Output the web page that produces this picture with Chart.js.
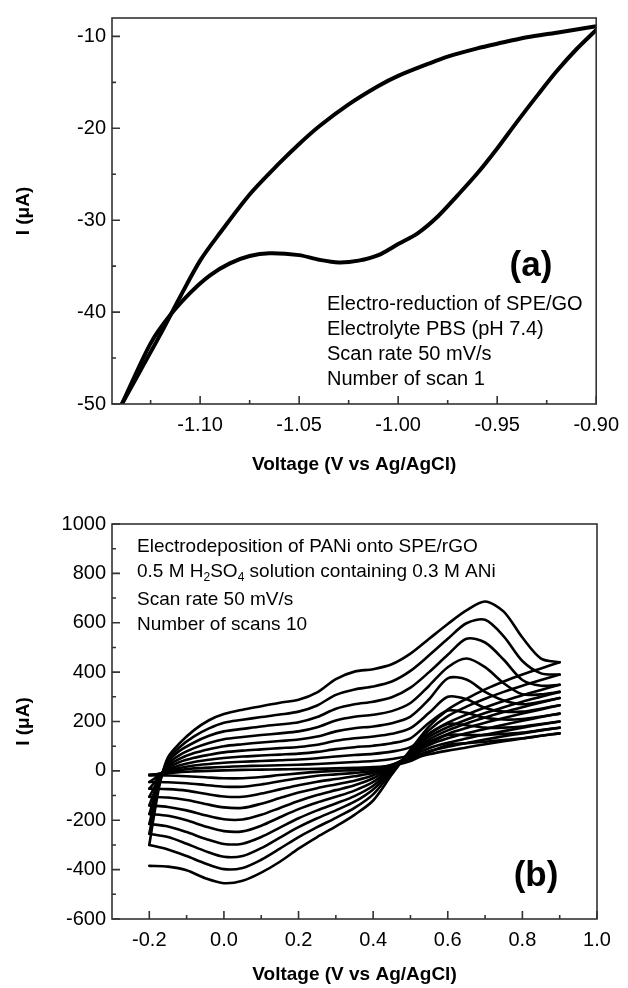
<!DOCTYPE html>
<html><head><meta charset="utf-8">
<script src="https://cdn.jsdelivr.net/npm/chart.js@4.4.1/dist/chart.umd.min.js"></script>
<style>
html,body{margin:0;padding:0;background:#fff;}
canvas{position:absolute;left:0;}
#ca{top:0;} #cb{top:492px;}
</style></head><body>
<canvas id="ca" width="628" height="492"></canvas>
<canvas id="cb" width="628" height="496"></canvas>
<script>
// ---------- Panel (a) data ----------
const A_UPPER_V = [-1.1395,-1.13,-1.12,-1.11,-1.10,-1.09,-1.075,-1.06,-1.05,-1.04,-1.025,-1.01,-1.00,-0.985,-0.975,-0.96,-0.95,-0.935,-0.92,-0.90];
const A_UPPER_I = [-50,-46.3,-42.4,-38.3,-34.4,-31.4,-27.2,-23.8,-21.7,-19.8,-17.4,-15.4,-14.3,-13.0,-12.2,-11.3,-10.8,-10.1,-9.6,-8.9];
const A_LOWER_V = [-0.90,-0.91,-0.92,-0.93,-0.94,-0.95,-0.96,-0.97,-0.98,-0.99,-1.00,-1.01,-1.02,-1.03,-1.04,-1.05,-1.065,-1.075,-1.085,-1.095,-1.105,-1.115,-1.125,-1.1395];
const A_LOWER_I = [-9.3,-11.4,-13.8,-16.5,-19.3,-22.2,-24.9,-27.3,-29.6,-31.4,-32.6,-33.8,-34.4,-34.6,-34.3,-33.8,-33.6,-33.9,-34.7,-36.0,-37.9,-40.3,-43.4,-50];
const A_X_TICKS = [-1.10,-1.05,-1.00,-0.95,-0.90];
const A_X_MINOR = [-1.125,-1.075,-1.025,-0.975,-0.925];
const A_Y_TICKS = [-50,-40,-30,-20,-10];
const A_Y_MINOR = [-45,-35,-25,-15];
const A_NOTES = ["Electro-reduction of SPE/GO","Electrolyte PBS (pH 7.4)","Scan rate 50 mV/s","Number of scan 1"];

// ---------- Panel (b) data ----------
const B_ANODIC_V = [-0.2,-0.185,-0.17,-0.15,-0.12,-0.08,-0.04,0.0,0.05,0.1,0.15,0.2,0.25,0.3,0.35,0.4,0.45,0.5,0.55,0.6,0.65,0.7,0.75,0.8,0.85,0.9];
const B_CATHODIC_V = [0.9,0.85,0.8,0.75,0.7,0.65,0.6,0.55,0.5,0.45,0.4,0.35,0.3,0.25,0.2,0.15,0.1,0.05,0.0,-0.05,-0.1,-0.15,-0.2];
const SCAN1_ANODIC  = [-15,-14,-12,-10,-5,-2,0,2,4,5,6,7,8,10,12,15,22,40,75,105,112,118,125,132,142,152];
const SCAN2_ANODIC  = [-18,-15,-10,-5,3,10,13,16,19,21,23,25,28,32,36,40,48,65,110,145,145,145,150,155,165,175];
const SCAN3_ANODIC  = [-45,-30,-12,0,12,22,28,33,37,40,43,46,51,58,64,69,78,96,150,190,185,175,175,180,190,200];
const SCAN4_ANODIC  = [-72,-45,-15,5,22,36,45,52,58,62,66,70,77,88,96,102,112,132,195,245,235,215,208,210,220,232];
const SCAN5_ANODIC  = [-105,-62,-18,12,35,53,65,75,82,87,92,97,106,122,132,139,150,173,235,300,290,255,240,240,252,266];
const SCAN6_ANODIC  = [-140,-80,-20,20,48,72,88,100,108,115,121,127,139,160,173,180,193,220,290,375,370,320,285,270,280,295];
const SCAN7_ANODIC  = [-175,-100,-25,28,63,92,113,128,137,145,152,160,177,204,219,227,242,275,345,420,455,420,355,310,310,320];
const SCAN8_ANODIC  = [-215,-120,-30,36,80,115,142,160,170,180,188,197,218,252,270,280,298,337,400,470,535,520,450,368,345,349];
const SCAN9_ANODIC  = [-255,-140,-35,44,95,140,172,195,207,218,228,240,265,308,330,342,362,405,468,535,598,612,545,445,395,390];
const SCAN10_ANODIC = [-300,-160,-40,55,110,165,205,230,248,262,276,288,318,372,402,412,432,475,535,595,650,686,645,540,455,440];
const SCAN1_CATHODIC  = [152,142,131,120,108,95,82,67,48,25,8,3,0,-4,-10,-17,-25,-30,-30,-26,-22,-19,-18];
const SCAN2_CATHODIC  = [175,164,152,140,127,113,98,80,53,24,0,-8,-14,-20,-30,-42,-55,-64,-64,-57,-50,-46,-45];
const SCAN3_CATHODIC  = [200,188,175,161,147,131,114,92,58,22,-8,-22,-33,-44,-58,-75,-92,-105,-104,-93,-80,-74,-72];
const SCAN4_CATHODIC  = [232,218,203,187,170,152,132,105,63,20,-18,-40,-55,-70,-88,-110,-133,-150,-148,-134,-118,-108,-105];
const SCAN5_CATHODIC  = [266,249,232,214,195,174,150,117,67,15,-30,-58,-78,-98,-122,-150,-178,-197,-196,-180,-160,-146,-140];
const SCAN6_CATHODIC  = [295,277,258,238,216,192,164,127,70,10,-45,-80,-105,-128,-155,-188,-222,-245,-244,-225,-200,-182,-175];
const SCAN7_CATHODIC  = [320,300,280,258,234,207,177,138,72,5,-60,-102,-132,-160,-192,-230,-268,-295,-296,-275,-248,-225,-215];
const SCAN8_CATHODIC  = [349,328,306,283,257,228,195,150,75,0,-75,-125,-160,-192,-228,-270,-313,-345,-348,-325,-295,-268,-255];
const SCAN9_CATHODIC  = [390,368,345,320,292,260,222,165,80,-5,-95,-150,-190,-228,-268,-315,-360,-393,-398,-375,-345,-318,-300];
const SCAN10_CATHODIC = [440,415,390,362,330,292,248,180,85,-15,-120,-178,-225,-268,-315,-368,-412,-445,-455,-435,-403,-388,-385];
const B_X_TICKS = [-0.2,0.0,0.2,0.4,0.6,0.8,1.0];
const B_X_MINOR = [-0.1,0.1,0.3,0.5,0.7,0.9];
const B_Y_TICKS = [-600,-400,-200,0,200,400,600,800,1000];
const B_Y_MINOR = [-500,-300,-100,100,300,500,700,900];
const B_NOTES = ["Electrodeposition of PANi onto SPE/rGO","0.5 M H|2|SO|4| solution containing 0.3 M ANi","Scan rate 50 mV/s","Number of scans 10"];

const FONT = "'Liberation Sans', Arial, sans-serif";

function pts(vs, is){ return vs.map((v,i)=>({x:v,y:is[i]})); }
function branch(vs, is, w){
  return { data: pts(vs, is), showLine:true, borderColor:'#000', borderWidth:w, pointRadius:0,
           tension:0.3, fill:false, borderJoinStyle:'round', borderCapStyle:'round' };
}

function framePlugin(xMinor, yMinor){
  return {
    id:'frame',
    afterDatasetsDraw(chart){
      const {ctx, chartArea:{left,right,top,bottom}, scales:{x,y}} = chart;
      ctx.save();
      ctx.strokeStyle = '#333'; ctx.lineWidth = 1.6;
      ctx.beginPath();
      x.ticks.forEach(t=>{ const px=x.getPixelForValue(t.value); ctx.moveTo(px,bottom); ctx.lineTo(px,bottom-8); });
      xMinor.forEach(v=>{ const px=x.getPixelForValue(v); ctx.moveTo(px,bottom); ctx.lineTo(px,bottom-4); });
      y.ticks.forEach(t=>{ const py=y.getPixelForValue(t.value); ctx.moveTo(left,py); ctx.lineTo(left+8,py); });
      yMinor.forEach(v=>{ const py=y.getPixelForValue(v); ctx.moveTo(left,py); ctx.lineTo(left+4,py); });
      ctx.stroke();
      ctx.strokeRect(left,top,right-left,bottom-top);
      ctx.restore();
    }
  };
}

function notesPlugin(lines, ox, oy0, dy, size, label, lx, ly, extraGap){
  return {
    id:'notes',
    afterDraw(chart){
      const {ctx, chartArea:{left,top}} = chart;
      ctx.save();
      ctx.fillStyle = '#000';
      ctx.textBaseline = 'middle';
      ctx.textAlign = 'left';
      lines.forEach((ln,i)=>{
        const yy = top + oy0 + i*dy + (i>=2 ? extraGap : 0);
        let xx = left + ox;
        ln.split('|').forEach((p,k)=>{
          if(k%2===1){
            ctx.font = Math.round(size*0.62)+'px '+FONT;
            ctx.fillText(p, xx, yy+6);
          } else {
            ctx.font = size+'px '+FONT;
            ctx.fillText(p, xx, yy);
          }
          xx += ctx.measureText(p).width;
        });
      });
      ctx.font = 'bold 35px '+FONT;
      ctx.textAlign = 'center';
      ctx.fillText(label, left+lx, top+ly);
      ctx.restore();
    }
  };
}

function axisCfg(min, max, ticks, dec, titleText, fitSize, isX, titlePad){
  return {
    type:'linear', min, max,
    afterBuildTicks: s => { s.ticks = ticks.map(v=>({value:v})); },
    afterFit: s => { if(isX) s.height = fitSize; else s.width = fitSize; },
    ticks:{ callback: v => Number(v).toFixed(dec), font:{family:FONT,size:20}, color:'#000', padding: isX?9:6, autoSkip:false, maxRotation:0 },
    grid:{ display:false, drawTicks:false },
    border:{ display:false },
    title:{ display:true, text:titleText, color:'#000', font:{family:FONT,size:19,weight:'bold'}, padding: titlePad }
  };
}

// Panel (a)
new Chart(document.getElementById('ca'), {
  type:'scatter',
  data:{ datasets:[ branch(A_UPPER_V, A_UPPER_I, 4), branch(A_LOWER_V, A_LOWER_I, 4) ] },
  options:{
    responsive:false, animation:false, devicePixelRatio:1,
    layout:{ padding:{ top:10, right:31, bottom:0, left:0 } },
    plugins:{ legend:{display:false}, tooltip:{enabled:false} },
    scales:{
      x: axisCfg(-1.1445, -0.90, A_X_TICKS, 2, 'Voltage (V vs Ag/AgCl)', 88, true, {top:0,bottom:16}),
      y: axisCfg(-50, -8, A_Y_TICKS, 0, 'I (\u03BCA)', 112, false, {top:12,bottom:0})
    }
  },
  plugins:[ framePlugin(A_X_MINOR, A_Y_MINOR), notesPlugin(A_NOTES, 215, 286, 25, 20, '(a)', 419, 248, 0) ]
});

// Panel (b)
const scans = [
  [SCAN1_ANODIC,SCAN1_CATHODIC],[SCAN2_ANODIC,SCAN2_CATHODIC],[SCAN3_ANODIC,SCAN3_CATHODIC],
  [SCAN4_ANODIC,SCAN4_CATHODIC],[SCAN5_ANODIC,SCAN5_CATHODIC],[SCAN6_ANODIC,SCAN6_CATHODIC],
  [SCAN7_ANODIC,SCAN7_CATHODIC],[SCAN8_ANODIC,SCAN8_CATHODIC],[SCAN9_ANODIC,SCAN9_CATHODIC],
  [SCAN10_ANODIC,SCAN10_CATHODIC]
];
const bSets = [];
scans.forEach(([an,ca])=>{ bSets.push(branch(B_ANODIC_V, an, 2.6)); bSets.push(branch(B_CATHODIC_V, ca, 2.6)); });
new Chart(document.getElementById('cb'), {
  type:'scatter',
  data:{ datasets: bSets },
  options:{
    responsive:false, animation:false, devicePixelRatio:1,
    layout:{ padding:{ top:32, right:31, bottom:0, left:0 } },
    plugins:{ legend:{display:false}, tooltip:{enabled:false} },
    scales:{
      x: axisCfg(-0.3, 1.0, B_X_TICKS, 1, 'Voltage (V vs Ag/AgCl)', 69, true, {top:0,bottom:2}),
      y: axisCfg(-600, 1000, B_Y_TICKS, 0, 'I (\u03BCA)', 112, false, {top:12,bottom:0})
    }
  },
  plugins:[ framePlugin(B_X_MINOR, B_Y_MINOR), notesPlugin(B_NOTES, 25, 23, 24.5, 19, '(b)', 424, 352, 4) ]
});
</script>
</body></html>
